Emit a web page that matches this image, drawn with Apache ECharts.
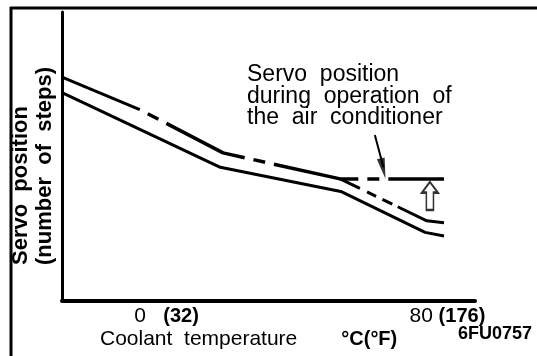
<!DOCTYPE html>
<html>
<head>
<meta charset="utf-8">
<script src="https://cdn.jsdelivr.net/npm/echarts@6/dist/echarts.min.js"></script>
<style>
  html, body { margin: 0; padding: 0; background: #fff; }
  #chart { width: 537px; height: 356px; }
</style>
</head>
<body>
<div id="chart"></div>
<script>
// Coolant temperature (°C) vs. servo position (steps, arbitrary scale)
const celsiusTicks = [0, 80];
const fahrenheitTicks = ['(32)', '(176)'];

// Normal servo position
const baseLine = [[-21, 86.5], [25, 55.5], [60, 45.5], [84.5, 28.5], [90, 27]];
// Upper curve: solid start, then chain line
const upperSolid = [[-21, 93], [1.6, 79.5]];
const upperChain = [[1.6, 79.5], [25.8, 61.5], [59.8, 50.7], [90, 50.7]];
const upperBranch = [[59.8, 50.7], [85, 33.3], [90, 32.5]];
// Callout leader and arrows
const leader = [[69.9, 68.9], [72.4, 55.5]];
const leaderHead = [[72.3, 55.0]];
const liftArrow = [[85.9, 43.6]];

const calloutText = 'Servo  position\nduring  operation  of\nthe  air  conditioner';
const yTitle = 'Servo  position\n(number  of  steps)';

const chart = echarts.init(document.getElementById('chart'), null, { renderer: 'canvas' });
const ink = '#000';
const lineBase = { color: ink, width: 3, join: 'round' };

chart.setOption({
  animation: false,
  backgroundColor: '#fff',
  grid: { left: 62, right: 62, top: 12, bottom: 55 },
  xAxis: {
    type: 'value', min: -21, max: 99,
    splitLine: { show: false },
    axisTick: { show: false },
    axisLine: { onZero: false, lineStyle: { color: ink, width: 4 } },
    axisLabel: {
      customValues: celsiusTicks,
      align: 'left',
      margin: 5,
      formatter: (v) => '{c|' + v + '}{f|' + fahrenheitTicks[celsiusTicks.indexOf(v)] + '}',
      rich: {
        c: { fontFamily: 'Liberation Sans', fontSize: 21, color: ink, width: 29 },
        f: { fontFamily: 'Liberation Sans', fontSize: 20, fontWeight: 'bold', color: ink }
      }
    }
  },
  yAxis: {
    type: 'value', min: 0, max: 120,
    splitLine: { show: false },
    axisTick: { show: false },
    axisLabel: { show: false },
    axisLine: { show: true, onZero: false, lineStyle: { color: ink, width: 3 } }
  },
  series: [
    { type: 'line', data: baseLine, symbol: 'none', lineStyle: lineBase },
    { type: 'line', data: upperSolid, symbol: 'none', lineStyle: lineBase },
    { type: 'line', data: upperChain, symbol: 'none',
      lineStyle: Object.assign({}, lineBase, { width: 3.5, type: [86, 9, 12, 9], dashOffset: 86 }) },
    { type: 'line', data: upperBranch, symbol: 'none',
      lineStyle: Object.assign({}, lineBase, { type: [22, 8, 10, 7, 11, 6, 80] }) },
    { type: 'line', data: leader, symbol: 'none', lineStyle: { color: ink, width: 2 } },
    { type: 'scatter', data: leaderHead, symbol: 'path://M0,0 L10,0 L5,30 Z',
      symbolSize: [8, 21], symbolRotate: 13, itemStyle: { color: ink } },
    { type: 'scatter', data: liftArrow,
      symbol: 'path://M9,0 L18,11 L13,11 L13,29 L5,29 L5,11 L0,11 Z',
      symbolSize: [16, 28], itemStyle: { color: '#fff', borderColor: ink, borderWidth: 2 } }
  ],
  graphic: [
    // outer frame
    { type: 'line', shape: { x1: 10, y1: 8, x2: 537, y2: 8 }, style: { stroke: ink, lineWidth: 3 } },
    { type: 'line', shape: { x1: 11, y1: 7, x2: 11, y2: 356 }, style: { stroke: ink, lineWidth: 3 } },
    // y-axis title
    { type: 'text', x: 9, y: 265, rotation: Math.PI / 2,
      style: { text: yTitle, fill: ink, font: 'bold 22px "Liberation Sans"', lineHeight: 24,
               align: 'left', verticalAlign: 'top', textAlign: 'left', textVerticalAlign: 'top' } },
    // callout
    { type: 'text', x: 247, y: 64,
      style: { text: calloutText, fill: ink, font: '23px "Liberation Sans"', lineHeight: 21.5,
               align: 'left', verticalAlign: 'top', textAlign: 'left', textVerticalAlign: 'top' } },
    // x-axis title
    { type: 'text', x: 100, y: 329,
      style: { text: '{n|Coolant  temperature}{g|}{u|°C(°F)}', fill: ink,
               align: 'left', verticalAlign: 'top', textAlign: 'left', textVerticalAlign: 'top',
               rich: {
                 n: { fontFamily: 'Liberation Sans', fontSize: 21, lineHeight: 21, fill: ink },
                 g: { width: 44 },
                 u: { fontFamily: 'Liberation Sans', fontSize: 20, fontWeight: 'bold', lineHeight: 21, fill: ink }
               } } },
    // figure code
    { type: 'text', x: 458, y: 325,
      style: { text: '6FU0757', fill: ink, font: 'bold 18px "Liberation Sans"',
               align: 'left', verticalAlign: 'top', textAlign: 'left', textVerticalAlign: 'top' } }
  ]
});
</script>
</body>
</html>
